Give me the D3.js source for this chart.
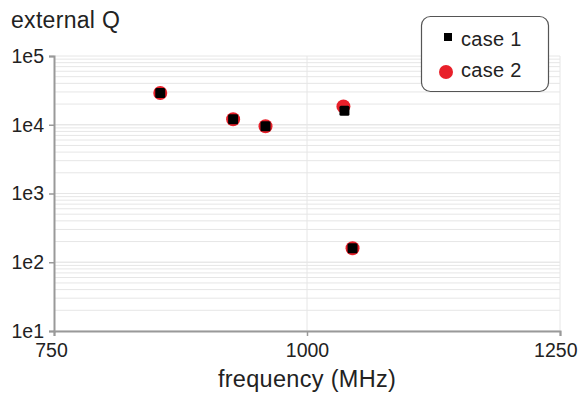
<!DOCTYPE html>
<html>
<head>
<meta charset="utf-8">
<script src="https://cdn.jsdelivr.net/npm/d3@7"></script>
<style>
html,body{margin:0;padding:0;background:#fff;}
svg{display:block;font-family:"Liberation Sans",Arial,sans-serif;}
</style>
</head>
<body>
<svg id="chart" width="578" height="394"></svg>
<script>
const freqCase1 = [855, 927, 959, 1037, 1045];
const qCase1 = [29000, 12000, 9500, 16000, 160];
const freqCase2 = [855, 927, 959, 1036, 1045];
const qCase2 = [29000, 12000, 9500, 18500, 160];
const xTicks = [750, 1000, 1250];
const yTicks = [10, 100, 1000, 10000, 100000];
const yTickLabels = ["1e1", "1e2", "1e3", "1e4", "1e5"];
const seriesNames = ["case 1", "case 2"];

const svg = d3.select("#chart");
const mLeft = 54, mRight = 560, mTop = 56, mBottom = 331;

const x = d3.scaleLinear().domain([750, 1250]).range([mLeft, mRight]);
const y = d3.scaleLog().domain([10, 100000]).range([mBottom, mTop]);

// minor grid
const minor = [];
for (let d = 10; d < 100000; d *= 10) for (let k = 1; k <= 10; k++) minor.push(d * k);
svg.append("g").selectAll("line").data(minor).join("line")
  .attr("x1", mLeft).attr("x2", mRight)
  .attr("y1", d => y(d)).attr("y2", d => y(d))
  .attr("stroke", "#e6e6e6").attr("stroke-width", 1);
svg.append("g").selectAll("line").data(xTicks.slice(1)).join("line")
  .attr("x1", d => x(d)).attr("x2", d => x(d))
  .attr("y1", mTop).attr("y2", mBottom)
  .attr("stroke", "#e6e6e6").attr("stroke-width", 1);

// axes
const xAxis = d3.axisBottom(x).tickValues(xTicks).tickSize(5).tickPadding(4).tickFormat(d3.format("d"));
const gx = svg.append("g").attr("transform", `translate(0,${mBottom})`).call(xAxis);
const yAxis = d3.axisLeft(y).tickValues(yTicks).tickSize(5).tickPadding(5).tickFormat((d, i) => yTickLabels[i]);
const gy = svg.append("g").attr("transform", `translate(${mLeft},0)`).call(yAxis);
[gx, gy].forEach(g => {
  g.select(".domain").attr("stroke", "#999").attr("stroke-width", 2);
  g.selectAll(".tick line").attr("stroke", "#999").attr("stroke-width", 1.5);
  g.selectAll(".tick text").attr("fill", "#222").attr("font-size", 19.5)
    .attr("font-family", "Liberation Sans, Arial, sans-serif");
});
gx.selectAll(".tick text").attr("dy", "0.85em");
gx.selectAll(".tick text").filter(d => d === 750).attr("dx", -3);
gx.selectAll(".tick text").filter(d => d === 1250).attr("text-anchor", "end").attr("dx", 17);

// title and axis label
svg.append("text").attr("x", 11).attr("y", 28).attr("font-size", 23).attr("letter-spacing", 0.3)
  .attr("fill", "#222").text("external Q");
svg.append("text").attr("x", x(1000)).attr("y", 387).attr("text-anchor", "middle")
  .attr("font-size", 23.5).attr("letter-spacing", 0.3).attr("fill", "#222").text("frequency (MHz)");

// data
const d2 = freqCase2.map((f, i) => ({f, q: qCase2[i]}));
const d1 = freqCase1.map((f, i) => ({f, q: qCase1[i]}));
svg.append("g").selectAll("circle").data(d2).join("circle")
  .attr("cx", d => x(d.f)).attr("cy", d => y(d.q)).attr("r", 7).attr("fill", "#e8202a");
const s = 10;
svg.append("g").selectAll("rect").data(d1).join("rect")
  .attr("x", d => x(d.f) - s / 2).attr("y", d => y(d.q) - s / 2)
  .attr("width", s).attr("height", s).attr("rx", 1.5).attr("fill", "#000");

// legend
const lg = svg.append("g");
lg.append("rect").attr("x", 421.5).attr("y", 16.5).attr("width", 127).attr("height", 75)
  .attr("rx", 9).attr("fill", "#fff").attr("stroke", "#555").attr("stroke-width", 1.2);
lg.append("rect").attr("x", 444).attr("y", 33).attr("width", 8).attr("height", 8).attr("fill", "#000");
lg.append("circle").attr("cx", 446).attr("cy", 72).attr("r", 7).attr("fill", "#e8202a");
lg.selectAll("text").data(seriesNames).join("text")
  .attr("x", 461).attr("y", (d, i) => 46 + i * 31).attr("font-size", 20).attr("letter-spacing", 0.3)
  .attr("fill", "#222").text(d => d);
</script>
</body>
</html>
